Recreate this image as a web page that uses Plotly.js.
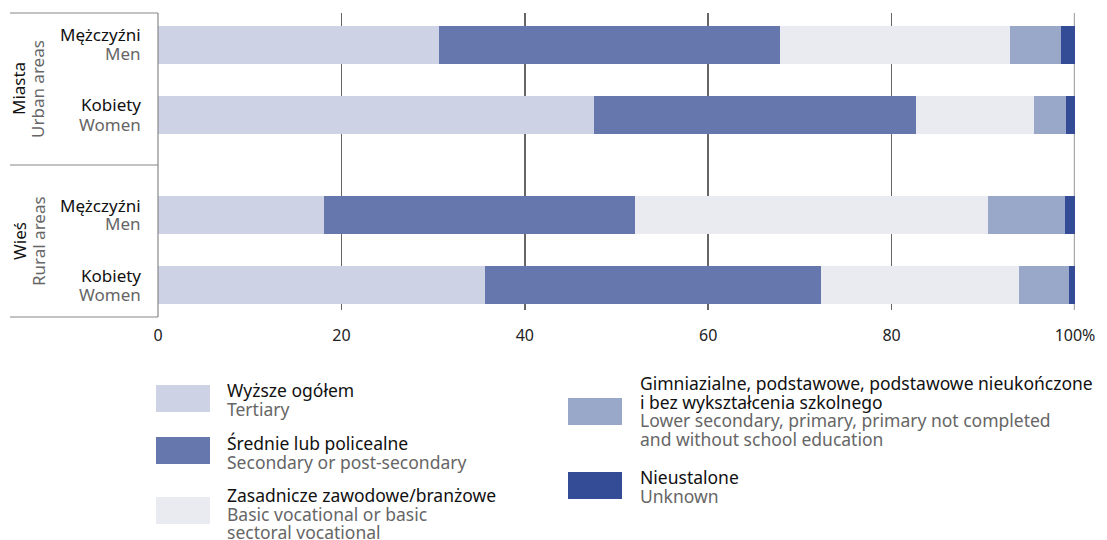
<!DOCTYPE html>
<html>
<head>
<meta charset="utf-8">
<script src="https://cdn.plot.ly/plotly-3.0.1.min.js"></script>
<style>html,body{margin:0;padding:0;background:#fff;}#chart{width:1107px;height:540px;}</style>
</head>
<body>
<div id="chart"></div>
<script>
// ---- data ----
const categoriesPL = ['Mężczyźni', 'Kobiety', 'Mężczyźni', 'Kobiety'];
const categoriesEN = ['Men', 'Women', 'Men', 'Women'];
const groupsPL = ['Miasta', 'Wieś'];
const groupsEN = ['Urban areas', 'Rural areas'];

const tertiary   = [30.6, 47.5, 18.1, 35.7];
const secondary  = [37.2, 35.2, 33.9, 36.6];
const vocational = [25.1, 12.8, 38.5, 21.6];
const lowerSec   = [5.6, 3.5, 8.4, 5.4];
const unknown    = [1.5, 1.0, 1.1, 0.7];

const seriesPL = ['Wyższe ogółem', 'Średnie lub policealne', 'Zasadnicze zawodowe/branżowe',
  'Gimniazialne, podstawowe, podstawowe nieukończone<br>i bez wykształcenia szkolnego', 'Nieustalone'];
const seriesEN = ['Tertiary', 'Secondary or post-secondary', 'Basic vocational or basic<br>sectoral vocational',
  'Lower secondary, primary, primary not completed<br>and without school education', 'Unknown'];

const tickVals = [0, 20, 40, 60, 80, 100];
const tickText = ['0', '20', '40', '60', '80', '100%'];

// ---- layout helpers ----
const W = 1107, H = 540;
const px = x => x / W;
const py = y => 1 - y / H;
const colors = ['#cdd2e5', '#6677ad', '#e9ebf1', '#99a7c9', '#344b95'];
const FONT = 'Noto Sans';
const GRAY = '#666666';
const LBL = 17;   // label font size
const LEG = 17.5; // legend font size

// row positions (units: one row step) — layout only
const rowPos = [0, 1, 2.4286, 3.4286];

const allSeries = [tertiary, secondary, vocational, lowerSec, unknown];
const traces = allSeries.map((vals, i) => ({
  type: 'bar', orientation: 'h', x: vals, y: rowPos,
  width: 0.543, marker: {color: colors[i], line: {width: 0}},
  name: seriesEN[i].replace('<br>', ' '), hoverinfo: 'x'
}));

const shapes = [];
const ann = [];
const line = (x0, y0, x1, y1, c, w) => shapes.push({type: 'line', xref: 'paper', yref: 'paper',
  x0: px(x0), y0: py(y0), x1: px(x1), y1: py(y1), line: {color: c, width: w}});

// left box
line(10, 13, 158, 13, '#888', 1.2);
line(10, 165, 158, 165, '#888', 1.2);
line(10, 317, 158, 317, '#888', 1.2);
line(158, 13, 158, 317, '#888', 1.2);
// 100% line, lighter
shapes.push({type: 'line', xref: 'x', yref: 'paper', x0: 100, x1: 100, y0: py(310), y1: py(13),
  line: {color: '#aaaaaa', width: 2.5}, layer: 'below'});

const txt = (x, y, t, color, size, xanchor, extra) => ann.push(Object.assign({
  xref: 'paper', yref: 'paper', x: px(x), y: py(y), xanchor: xanchor, yanchor: 'middle',
  text: t, showarrow: false, font: {family: FONT, size: size, color: color}}, extra || {}));

// category labels
const catY = [35, 105, 205, 275];
categoriesPL.forEach((c, i) => {
  txt(143, catY[i], c, '#111', LBL, 'right');
  txt(143, catY[i] + 19, categoriesEN[i], GRAY, LBL, 'right');
});
// group labels
const grpY = [89, 241];
groupsPL.forEach((g, i) => {
  txt(19, grpY[i], g, '#111', LBL, 'center', {textangle: -90});
  txt(38, grpY[i], groupsEN[i], GRAY, LBL, 'center', {textangle: -90});
});

// legend (custom)
const legPos = [
  {sx: 156, sy: 385, tx: 225, ty: 390},
  {sx: 156, sy: 437, tx: 225, ty: 443},
  {sx: 156, sy: 497, tx: 225, ty: 495},
  {sx: 568, sy: 398, tx: 638, ty: 383},
  {sx: 568, sy: 472, tx: 638, ty: 477}
];
const LH = 18.6;
legPos.forEach((p, i) => {
  shapes.push({type: 'rect', xref: 'paper', yref: 'paper', x0: px(p.sx), x1: px(p.sx + 54),
    y0: py(p.sy), y1: py(p.sy + 27), fillcolor: colors[i], line: {width: 0}});
  const lines = seriesPL[i].split('<br>').map(t => [t, '#111'])
    .concat(seriesEN[i].split('<br>').map(t => [t, GRAY]));
  lines.forEach((l, k) => txt(p.tx, p.ty + k * LH, l[0], l[1], LEG, 'left'));
});

const layout = {
  width: W, height: H,
  margin: {l: 0, r: 0, t: 0, b: 0},
  paper_bgcolor: '#fff', plot_bgcolor: 'rgba(0,0,0,0)',
  barmode: 'stack', bargap: 0,
  showlegend: false,
  xaxis: {
    domain: [px(158), px(1075)], range: [0, 100],
    tickvals: tickVals, ticktext: tickText,
    showgrid: true, gridcolor: '#666666', gridwidth: 1.5,
    zeroline: false, showline: false,
    ticks: 'outside', ticklen: 11, tickcolor: 'rgba(0,0,0,0)',
    tickfont: {family: FONT, size: 16, color: '#222'},
    fixedrange: true
  },
  yaxis: {
    domain: [py(310), py(13)], range: [3.786, -0.457],
    showticklabels: false, showgrid: false, zeroline: false, showline: false, fixedrange: true
  },
  shapes: shapes, annotations: ann
};

Plotly.newPlot('chart', traces, layout, {displayModeBar: false, staticPlot: true});
</script>
</body>
</html>
